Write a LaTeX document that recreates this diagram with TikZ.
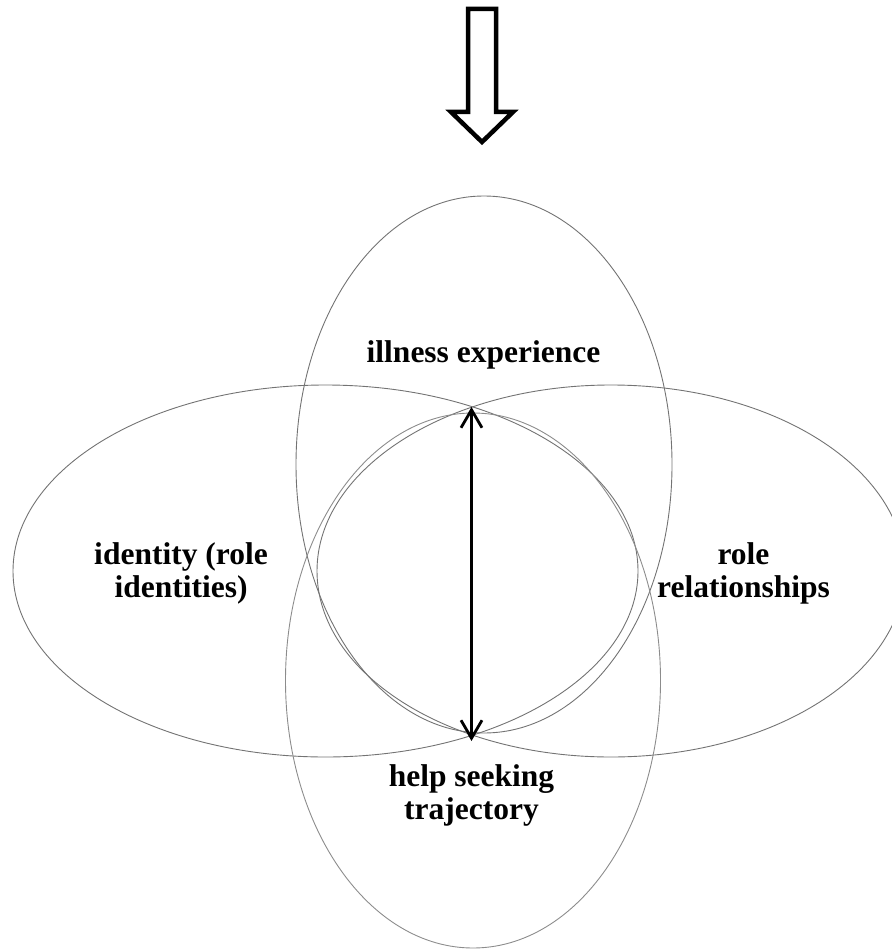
\documentclass[tikz,border=0pt]{standalone}
\usepackage{fontspec}
\setmainfont{Liberation Serif}
\usetikzlibrary{shapes.geometric,arrows.meta}
\begin{document}
\begin{tikzpicture}[x=1pt,y=-1pt,
  ring/.style={draw=black!55,line width=0.9pt,ellipse,inner sep=0pt,outer sep=0pt},
  label/.style={font=\fontsize{31.5}{33}\selectfont\bfseries,align=center,inner sep=0pt,anchor=base},
  bigarrow/.style={draw=black,line width=4.5pt,line join=miter,fill=white},
  link/.style={draw=black,line width=2.8pt,{Straight Barb[length=18pt,width=21pt,line width=2.8pt]}-{Straight Barb[length=18pt,width=21pt,line width=2.8pt]}}]
\useasboundingbox (0,0) rectangle (891,949);
% ellipses
\node[ring,minimum width=625pt,minimum height=372pt] (ident) at (325.5,571) {};
\node[ring,minimum width=588pt,minimum height=372pt] (rel) at (611,571) {};
\node[ring,minimum width=376pt,minimum height=537pt] (ill) at (484,464.5) {};
\node[ring,draw=black!45,minimum width=375pt,minimum height=535pt] (help) at (473,680.5) {};
% labels
\node[label] (tIll) at (483.5,362) {illness experience};
\node[label] (tIdent) at (181,597) {identity (role\\identities)};
\node[label] (tRel) at (743.5,597) {role\\relationships};
\node[label] (tHelp) at (471.5,819) {help seeking\\trajectory};
% central double arrow
\coordinate (ctop) at (471.5,407);
\coordinate (cbot) at (471.5,741);
\draw[link] (ctop) -- (cbot);
% top hollow arrow
\path[bigarrow] (468,9) -- (496,9) -- (496,112) -- (513,112) -- (482,142) -- (451,112) -- (468,112) -- cycle;
\end{tikzpicture}
\end{document}
